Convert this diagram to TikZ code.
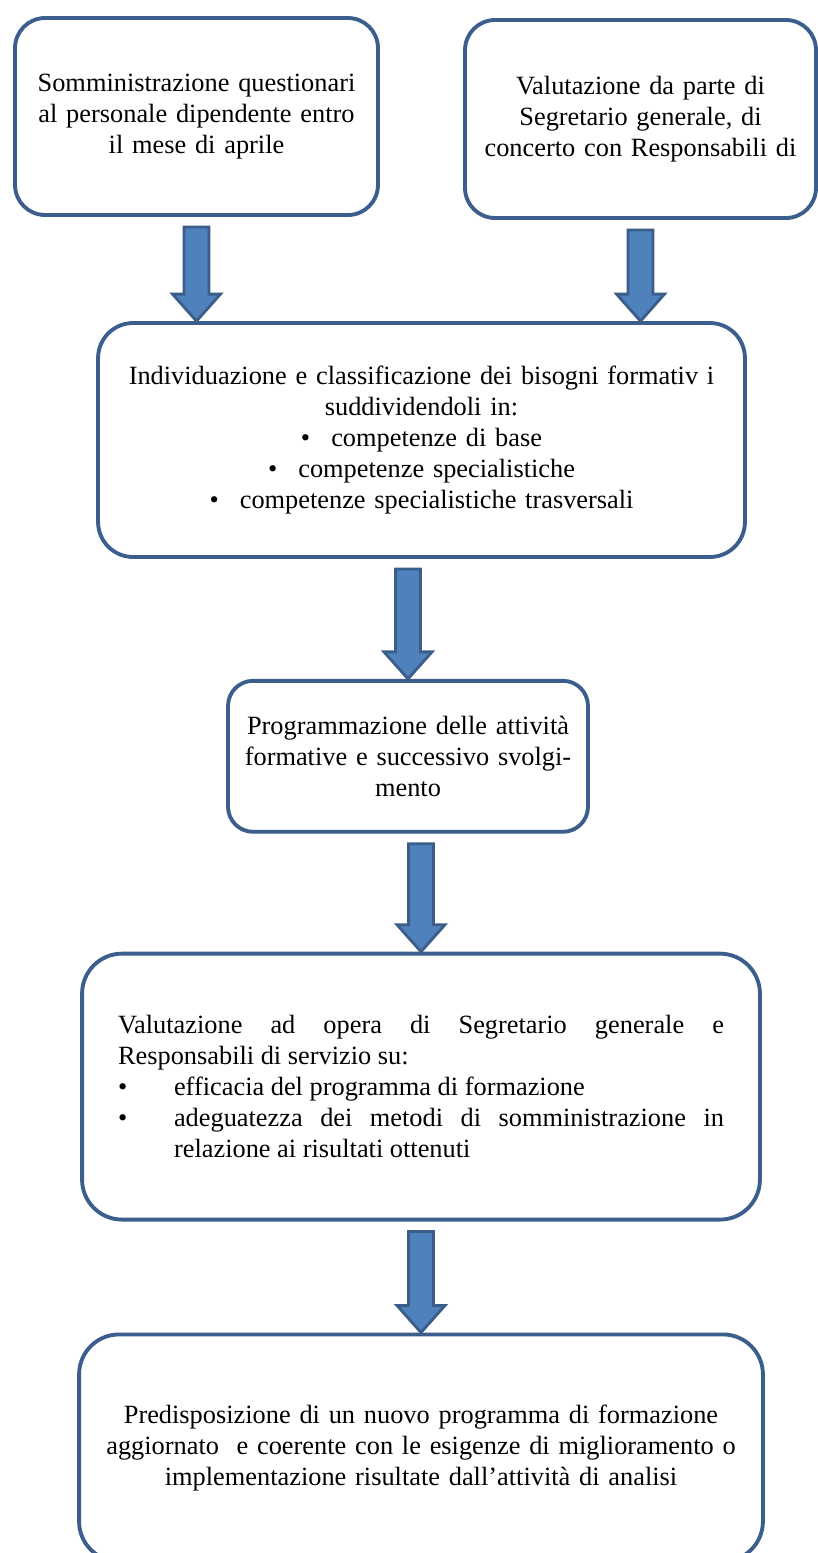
\documentclass[tikz,border=0pt]{standalone}
\usepackage{fontspec}
\setmainfont{Liberation Serif}
\usepackage{tikz}
\usetikzlibrary{positioning,calc}
\definecolor{cborde}{HTML}{3B5E8C}
\definecolor{cflecha}{HTML}{4F81BD}
\definecolor{cfilo}{HTML}{3A5D89}
\tikzset{
  bloque/.style={rectangle, rounded corners=0.6cm, draw=cborde, line width=2.2pt, fill=white,
    align=center, inner sep=0pt, font=\fontsize{15}{17.6}\selectfont},
  flechon/.style={draw=cfilo, fill=cflecha, line width=1.6pt, line join=miter,
    to path={let \p1=(\tikztostart), \p2=(\tikztotarget) in
      (\x2-0.25cm,\y1-0.2cm) -- (\x2-0.25cm,\y2+0.54cm) -- (\x2-0.48cm,\y2+0.54cm)
      -- (\x2,\y2) -- (\x2+0.48cm,\y2+0.54cm) -- (\x2+0.25cm,\y2+0.54cm)
      -- (\x2+0.25cm,\y1-0.2cm) -- cycle}},
}
\newcommand{\voce}[1]{\noindent\makebox[1.12cm][l]{\textbullet}\parbox[t]{11cm}{#1}\par}
\begin{document}
\begin{tikzpicture}[x=0.02cm, y=-0.02cm]
  \useasboundingbox (0,0) rectangle (818,1553);
  % riquadri superiori
  \node[bloque, minimum width=7.26cm, minimum height=3.94cm, text width=7cm] (b1) at (196.5,116.5)
    {Somministrazione questionari\\al personale dipendente entro\\il mese di aprile};
  \node[bloque, minimum width=7.02cm, minimum height=3.96cm, text width=6.8cm] (b2) at (640.5,119)
    {Valutazione da parte di\\Segretario generale, di\\concerto con Responsabili di};
  \node[bloque, rounded corners=0.7cm, minimum width=12.94cm, minimum height=4.68cm, text width=12.5cm] (b3) at (421.5,440)
    {Individuazione e classificazione dei bisogni formativ i\\suddividendoli in:\\
     \textbullet\hspace{0.8em}competenze di base\\
     \textbullet\hspace{0.8em}competenze specialistiche\\
     \textbullet\hspace{0.8em}competenze specialistiche trasversali};
  % catena
  \node[bloque, rounded corners=0.5cm, minimum width=7.2cm, minimum height=3.02cm, text width=6.8cm,
    below=2.4cm of b3, xshift=-0.27cm] (b4)
    {Programmazione delle attività\\formative e successivo svolgi-\\mento};
  \node[bloque, rounded corners=0.8cm, minimum width=13.56cm, minimum height=5.32cm, text width=12.12cm,
    align=justify, below=2.36cm of b4, xshift=0.26cm] (b5)
    {\noindent Valutazione ad opera di Segretario generale e\linebreak Responsabili di servizio su:\par
     \voce{efficacia del programma di formazione}
     \voce{adeguatezza dei metodi di somministrazione in\linebreak relazione ai risultati ottenuti}};
  \node[bloque, rounded corners=0.8cm, minimum width=13.68cm, minimum height=4.54cm, text width=13cm,
    below=2.22cm of b5] (b6)
    {Predisposizione di un nuovo programma di formazione\\aggiornato \ e coerente con le esigenze di miglioramento o\\implementazione risultate dall’attività di analisi};
  % frecce
  \draw[flechon] (b1.south) to (b1.south |- b3.north);
  \draw[flechon] (b2.south) to (b2.south |- b3.north);
  \draw[flechon] (b4.north |- b3.south) to (b4.north);
  \draw[flechon] (b5.north |- b4.south) to (b5.north);
  \draw[flechon] (b6.north |- b5.south) to (b6.north);
\end{tikzpicture}
\end{document}
